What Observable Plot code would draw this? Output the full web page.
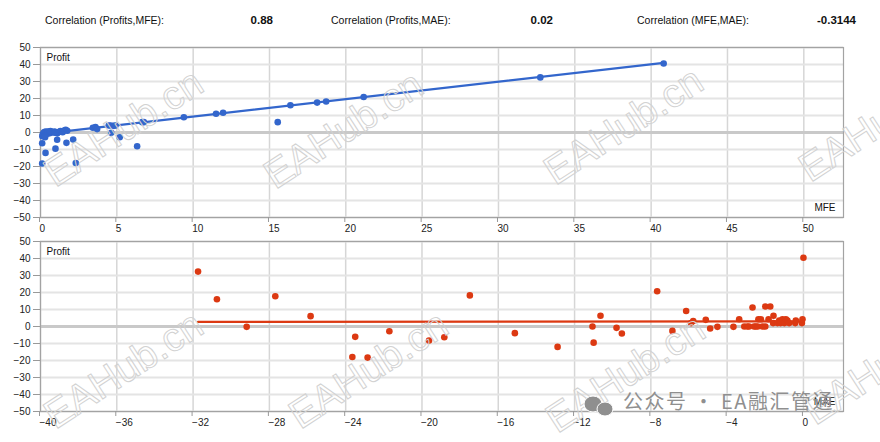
<!DOCTYPE html>
<html>
<head>
<meta charset="utf-8">
<script src="https://cdn.jsdelivr.net/npm/d3@7"></script>
<script src="https://cdn.jsdelivr.net/npm/@observablehq/plot@0.6"></script>
<style>
  html, body { margin: 0; padding: 0; background: #fff; }
  #wrap { position: relative; width: 880px; height: 442px; overflow: hidden; font-family: "Liberation Sans", Arial, sans-serif; }
  #header { position: relative; height: 40px; font-size: 10.5px; color: #111; }
  #header span { position: absolute; top: 14px; line-height: 12px; white-space: nowrap; }
  #header .val { font-weight: bold; font-size: 11.5px; }
  #charts svg { display: block; }
  #wm { position: absolute; left: 0; top: 0; pointer-events: none; }
</style>
</head>
<body>
<div id="wrap">
  <div id="header"></div>
  <div id="charts"></div>
</div>
<script>
// ---- data ----
const correlationLabels = ["Correlation (Profits,MFE):", "Correlation (Profits,MAE):", "Correlation (MFE,MAE):"];
const correlationValues = ["0.88", "0.02", "-0.3144"];

const mfeTicks = [0, 5, 10, 15, 20, 25, 30, 35, 40, 45, 50];
const maeTicks = [-40, -36, -32, -28, -24, -20, -16, -12, -8, -4, 0];
const profitTicks = [-50, -40, -30, -20, -10, 0, 10, 20, 30, 40, 50];

// top chart: MFE vs Profit
const mfeValues = [0.12,0.15,0.2,0.25,0.3,0.35,0.4,0.45,0.5,0.55,0.6,0.7,0.8,0.9,1.0,1.1,1.2,1.3,1.45,1.55,1.65,1.75,0.3,0.65,0.95,
  0.11,0.11,0.33,0.98,1.09,1.70,2.14,2.31,
  3.43,3.6,3.71,4.47,4.6,4.8,4.91,4.63,5.19,6.33,6.66,6.77,
  9.39,11.5,11.96,15.54,16.37,18.12,18.71,21.17,32.74,40.82];
const mfeProfits = [-2.2,-1.0,-0.3,0.3,-1.6,0.5,0,-0.8,0.6,0.2,-0.4,0.4,0.1,0.5,0.2,-0.5,0.3,0.8,0.2,1.2,1.6,1.0,-2.8,0.8,-0.1,
  -18.2,-6.3,-12,-9.5,-4.3,-6.1,-4.1,-17.9,
  2.8,3.2,2.0,4.1,4.1,3.9,4.1,-0.2,-2.8,-8.1,6.1,6.1,
  9.0,11.0,11.6,6.1,16,17.6,18.2,20.9,32.4,40.6];
const mfeTrendX = [0.11, 40.82];
const mfeTrendY = [-0.8, 41];

// bottom chart: MAE vs Profit
const maeValues = [-31.74,-30.75,-29.19,-27.69,-25.84,-23.65,-23.5,-22.85,-21.71,-19.63,-18.83,-17.49,-15.13,-12.89,-11.06,-11.0,-10.64,-9.80,-9.52,
  -7.67,-6.87,-6.15,-5.89,-5.78,-5.12,-4.89,-4.51,-3.67,-3.37,-3.1,-2.94,-2.85,-2.67,-2.59,-2.5,-2.4,-2.36,-2.23,-2.15,-2.0,
  -2.0,-1.74,-1.83,-1.59,-1.57,-1.36,-1.27,-1.2,-1.1,-1.0,-0.92,-0.84,-0.75,-0.43,-0.4,-0.08,-0.05,0];
const maeProfits = [32.3,16,-0.2,17.8,6.1,-17.9,-6.1,-18.3,-2.8,-8.3,-6.3,18.3,-3.9,-12,0,-9.5,6.3,-0.8,-4.1,
  20.7,-2.6,9.1,2.0,3.2,3.9,-1.2,-0.2,-0.2,4.3,0,0,0,11.2,0,0,0,4.3,4.3,0,0,
  11.8,11.8,4.3,2.0,6.3,2.0,3.5,2.0,4.3,2.0,4.3,3.5,2.0,2.0,3.5,2.0,4.3,40.4];
const maeTrendX = [-31.74, 0];
const maeTrendY = [2.7, 3.0];

// ---- build ----
const header = document.getElementById("header");
const labelLeft = [45, 331, 637];
const valueRight = [273, 553, 856];
correlationLabels.forEach((t, i) => {
  const s = document.createElement("span");
  s.textContent = t; s.style.left = labelLeft[i] + "px";
  header.appendChild(s);
  const v = document.createElement("span");
  v.className = "val"; v.textContent = correlationValues[i];
  v.style.right = (880 - valueRight[i]) + "px";
  header.appendChild(v);
});

const topData = mfeValues.map((x, i) => ({x, y: mfeProfits[i]}));
const topTrend = mfeTrendX.map((x, i) => ({x, y: mfeTrendY[i]}));
const botData = maeValues.map((x, i) => ({x, y: maeProfits[i]}));
const botTrend = maeTrendX.map((x, i) => ({x, y: maeTrendY[i]}));

function panel({data, trend, xDomain, xTicks, color, xLabel, height, marginBottom}) {
  return Plot.plot({
    width: 880,
    height,
    marginLeft: 40,
    marginRight: 37,
    marginTop: 7,
    marginBottom,
    style: {fontFamily: "'Liberation Sans', Arial, sans-serif", fontSize: "10px", background: "white", color: "#222"},
    x: {domain: xDomain, axis: null},
    y: {domain: [-50, 50], axis: null},
    marks: [
      Plot.gridX(xTicks, {stroke: "#d6d6d6", strokeOpacity: 1, strokeWidth: 1.5}),
      Plot.gridY(profitTicks, {stroke: "#e4e4e4", strokeOpacity: 1, strokeWidth: 2}),
      Plot.ruleY([0], {stroke: "#c9c9c9", strokeWidth: 3}),
      Plot.frame({stroke: "#a3a3a3", strokeWidth: 1.2}),
      Plot.axisX(xTicks, {anchor: "bottom", label: null, tickSize: 5, tickPadding: 2, textAnchor: "start", dx: -1, stroke: "#999", fill: "#222", fontSize: 10}),
      Plot.axisY(profitTicks, {anchor: "left", label: null, tickSize: 7, tickPadding: 3, stroke: "#999", fill: "#222", fontSize: 10}),
      Plot.line(trend, {x: "x", y: "y", stroke: color, strokeWidth: 2.2}),
      Plot.dot(data, {x: "x", y: "y", r: 3.3, fill: color, stroke: null}),
      Plot.text(["Profit"], {frameAnchor: "top-left", dx: 6, dy: 10, lineAnchor: "middle", textAnchor: "start", fill: "#111", fontSize: 10}),
      Plot.text([xLabel], {frameAnchor: "bottom-right", dx: -8, dy: -10, lineAnchor: "middle", textAnchor: "end", fill: "#111", fontSize: 10})
    ]
  });
}

const charts = document.getElementById("charts");
charts.appendChild(panel({data: topData, trend: topTrend, xDomain: [0, 52.6], xTicks: mfeTicks, color: "#3366cc", xLabel: "MFE", height: 194, marginBottom: 17}));
charts.appendChild(panel({data: botData, trend: botTrend, xDomain: [-40, 2.1], xTicks: maeTicks, color: "#dc3912", xLabel: "MAE", height: 197, marginBottom: 20}));

// ---- watermark overlay (decoration in the source image) ----
const wmSpots = [[125,130],[345,132],[625,128],[880,125],[125,372],[370,372],[627,376],[885,368]];
const ns = "http://www.w3.org/2000/svg";
const wm = document.createElementNS(ns, "svg");
wm.setAttribute("id", "wm"); wm.setAttribute("width", 880); wm.setAttribute("height", 442);
wmSpots.forEach(([cx, cy]) => {
  const t = document.createElementNS(ns, "text");
  t.setAttribute("x", cx); t.setAttribute("y", cy);
  t.setAttribute("text-anchor", "middle"); t.setAttribute("dominant-baseline", "middle");
  t.setAttribute("transform", `rotate(-33 ${cx} ${cy})`);
  t.setAttribute("font-family", "'Liberation Sans', Arial, sans-serif");
  t.setAttribute("font-size", "40");
  t.setAttribute("fill", "none"); t.setAttribute("stroke", "#d2d2d2"); t.setAttribute("stroke-width", "1");
  t.textContent = "EAHub.cn";
  wm.appendChild(t);
});
const g = document.createElementNS(ns, "g");
[[593,404,9,8],[605,409,8,7]].forEach(([cx, cy, rx, ry]) => {
  const e = document.createElementNS(ns, "ellipse");
  e.setAttribute("cx", cx); e.setAttribute("cy", cy); e.setAttribute("rx", rx); e.setAttribute("ry", ry);
  e.setAttribute("fill", "#8f8f8f"); e.setAttribute("stroke", "#fff"); e.setAttribute("stroke-width", "1");
  g.appendChild(e);
});
const wt = document.createElementNS(ns, "text");
wt.setAttribute("x", 623); wt.setAttribute("y", 404);
wt.setAttribute("dominant-baseline", "middle");
wt.setAttribute("font-family", "'Noto Sans CJK SC', sans-serif");
wt.setAttribute("font-size", "20"); wt.setAttribute("letter-spacing", "1.5");
wt.setAttribute("fill", "#8f8f8f");
wt.textContent = "公众号 · EA融汇管通";
g.appendChild(wt);
wm.appendChild(g);
document.getElementById("wrap").appendChild(wm);
</script>
</body>
</html>
